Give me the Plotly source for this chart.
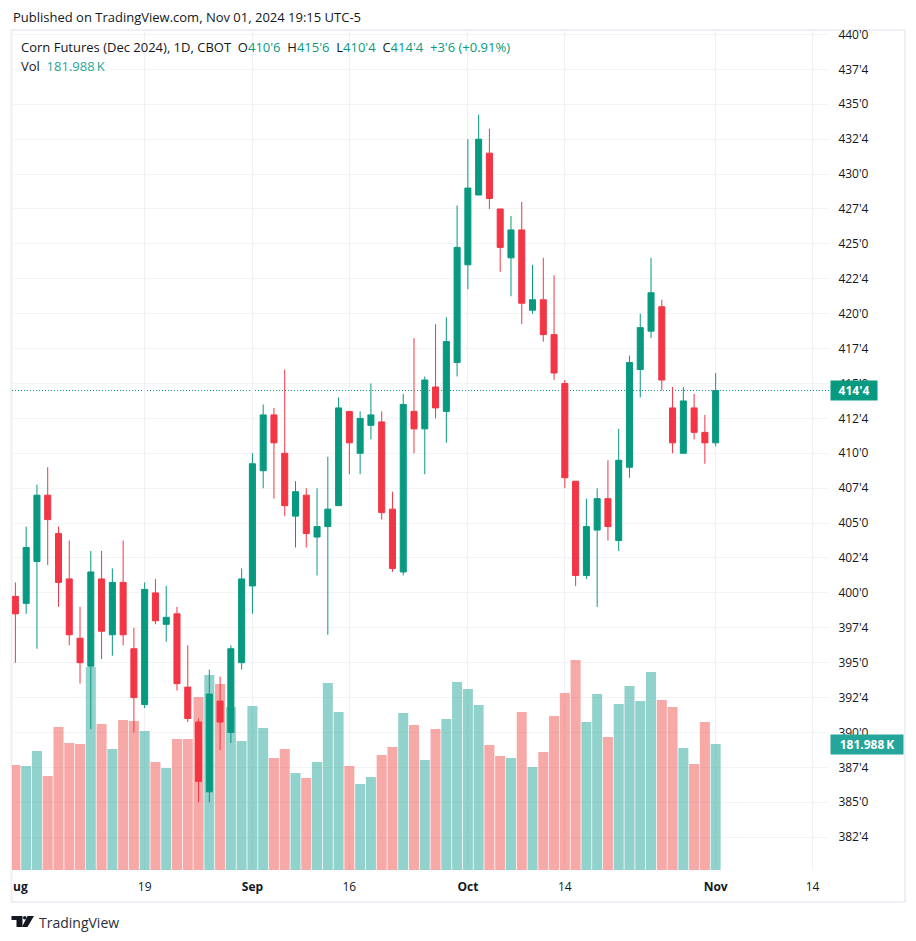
import plotly.graph_objects as go

# daily candles Aug 1 - Nov 1 2024 (cents, 414'4 = 414.5)
opens = [399.75, 399.25, 402.25, 407, 404.25, 401, 396.75, 394.75, 401, 397, 400.75, 396, 392, 400, 397.75, 398.5, 393.25, 390.75, 385.75, 392.25, 390, 395,
         400.5, 408.75, 412.75, 410, 405.5, 407, 404, 404.75, 406.25, 413, 410, 412, 412.25, 406, 401.5, 413, 411.75, 414.75, 413, 416.5,
         423.5, 428.5, 431.5, 427.5, 424, 426, 420.25, 421, 418.5, 415, 408, 401.25, 404.5, 406.75, 403.75, 409, 416, 418.75, 420.5, 413.25, 410, 413.25, 411.5, 410.75]
highs = [400.75, 404.75, 407.75, 409, 404.75, 403.75, 399, 403, 403, 401.75, 403.75, 397.5, 400.75, 401, 400.5, 399, 396.25, 391, 394.5, 394, 396.25, 401.75,
         410, 413.5, 413.25, 416, 408, 407.5, 407.5, 409.75, 414, 413, 413, 415, 413, 407.25, 414.25, 418.25, 415.5, 419.25, 419.75, 427.75,
         432.5, 434.25, 433.25, 427.5, 427, 428, 423.5, 424, 422.75, 415.25, 408, 406.75, 407.5, 409.5, 411.75, 417, 420, 424, 421, 414.75, 414.75, 414.25, 412.75, 415.75]
lows = [395, 398.5, 396, 402, 399, 396.25, 393.5, 390.25, 395.25, 395.5, 396.25, 390, 391.75, 397.75, 396.5, 393, 390.75, 385, 385, 388.75, 389.25, 394.5,
        398.5, 407.5, 406.75, 405.5, 403.25, 403.25, 401.25, 397, 406.25, 408.5, 408.5, 411, 405.25, 401.5, 401.25, 410, 408.5, 412.5, 410.75, 415.5,
        421.75, 428.5, 427.5, 423, 421.25, 419.25, 420, 418, 415.25, 407.5, 400.5, 401, 399, 403.75, 403, 408.25, 414, 418.25, 414.5, 410, 410, 411, 409.25, 410.5]
closes = [398.5, 403.25, 407, 405.25, 400.75, 397, 395, 401.5, 397.25, 400.75, 397, 392.5, 400.25, 398, 398.25, 393.5, 391, 386.5, 392.75, 390.75, 396, 401,
          409.25, 412.75, 410.75, 406.25, 407.25, 404.25, 404.75, 406, 413.25, 410.75, 412.5, 412.75, 405.75, 401.75, 413.5, 411.75, 415.25, 413.25, 418, 424.75,
          429, 432.5, 428.25, 424.75, 426, 420.75, 421, 418.5, 415.75, 408.25, 401.25, 404.75, 406.75, 404.75, 409.5, 416.5, 419, 421.5, 415.25, 410.75, 413.75, 411.5, 410.75, 414.5]
volumes = [151.6, 150.2, 171.8, 135.7, 206.5, 183.4, 181.9, 293.1, 210.8, 174.7, 216.6, 215.1, 200.7, 155.9, 147.3, 189.1, 189.1, 249.8, 281.6, 268.6, 235.4, 186.3,
           236.8, 205.0, 161.7, 174.7, 140.1, 132.8, 155.9, 270.0, 228.1, 150.2, 124.2, 134.3, 166.0, 177.6, 226.7, 209.4, 158.8, 203.6, 218.0, 271.5,
           261.3, 238.2, 180.5, 164.6, 161.7, 228.1, 148.7, 170.4, 222.4, 255.6, 303.2, 213.7, 254.1, 192.0, 239.7, 265.7, 244.0, 285.9, 245.5, 235.4, 176.2, 153.1, 213.7, 181.988]

date_ticks = [12, 22, 31, 42, 51, 65, 74]
date_labels = ["19", "<b>Sep</b>", "16", "<b>Oct</b>", "14", "<b>Nov</b>", "14"]
price_ticks = [382.5, 385, 387.5, 390, 392.5, 395, 397.5, 400, 402.5, 405, 407.5, 410, 412.5, 415, 417.5, 420, 422.5, 425, 427.5, 430, 432.5, 435, 437.5, 440]
price_labels = ["382'4", "385'0", "387'4", "390'0", "392'4", "395'0", "397'4", "400'0", "402'4", "405'0", "407'4", "410'0", "412'4", "415'0", "417'4", "420'0", "422'4", "425'0", "427'4", "430'0", "432'4", "435'0", "437'4", "440'0"]

UP = "#089981"
DOWN = "#F23645"
FONT = "Open Sans"
TEXT = "#131722"
# the page body keeps its 8px margin, so the figure starts at 8,8 of the window
PAGE_W, PAGE_H, BODY = 916, 941, 8
LEFT, RIGHT, TOP, BOTTOM = 11.5, 829, 31, 870


def px(x):
    return (x - LEFT) / (RIGHT - LEFT)


def py(y):
    return (BOTTOM - y) / (BOTTOM - TOP)


def page_text(x, y, text, size=13, color=TEXT):
    return dict(xref="paper", yref="paper", x=px(x), y=py(y), xanchor="left", yanchor="middle", text=text, xshift=-1,
                showarrow=False, align="left", font=dict(family=FONT, size=size, color=color))


def logo_path(points):
    return "M" + "L".join(f"{px(a)},{py(b)}" for a, b in points) + "Z"


xs = list(range(len(opens)))
vol_colors = ["rgba(38,166,154,0.5)" if c >= o else "rgba(239,83,80,0.5)" for o, c in zip(opens, closes)]

fig = go.Figure()
fig.add_trace(go.Bar(x=xs, y=volumes, marker=dict(color=vol_colors, line_width=0), yaxis="y", showlegend=False))
fig.add_trace(go.Candlestick(x=xs, open=opens, high=highs, low=lows, close=closes, yaxis="y2", showlegend=False,
                             increasing=dict(line=dict(color=UP, width=1), fillcolor=UP),
                             decreasing=dict(line=dict(color=DOWN, width=1), fillcolor=DOWN),
                             whiskerwidth=0))

fig.update_layout(
    width=PAGE_W - 2 * BODY, height=PAGE_H - 2 * BODY,
    margin=dict(l=LEFT - BODY, r=PAGE_W - BODY - RIGHT, t=TOP - BODY, b=PAGE_H - BODY - BOTTOM, pad=0),
    paper_bgcolor="white", plot_bgcolor="white", bargap=0.07, boxgap=0.2,
    font=dict(family=FONT, size=12, color=TEXT),
    xaxis=dict(range=[-0.315, 75.52], tickmode="array", tickvals=date_ticks, ticktext=date_labels, rangeslider_visible=False,
               showgrid=True, gridcolor="#F0F1F4", gridwidth=1, zeroline=False, ticks="outside", ticklen=6,
               tickcolor="rgba(0,0,0,0)", showline=False),
    yaxis=dict(range=[0, 1212], showgrid=False, showticklabels=False, zeroline=False, fixedrange=True),
    yaxis2=dict(range=[380.15, 440.25], overlaying="y", side="right", anchor="x", tickmode="array", tickvals=price_ticks,
                ticktext=price_labels, showgrid=True, gridcolor="#F3F4F6", gridwidth=1, zeroline=False, ticks="outside",
                ticklen=6, tickcolor="rgba(0,0,0,0)", showline=False),
    shapes=[
        dict(type="rect", xref="paper", yref="paper", x0=px(11), y0=py(30), x1=px(905), y1=py(902),
             line=dict(color="#EFF0F6", width=2), layer="below"),
        dict(type="line", xref="paper", yref="y2", x0=0, x1=1, y0=closes[-1], y1=closes[-1],
             line=dict(color=UP, width=1, dash="1px,2px"), layer="below"),
        dict(type="path", xref="paper", yref="paper", fillcolor="#131722", line_width=0,
             path=logo_path([(11, 916), (22, 916), (22, 927), (16, 927), (16, 920), (11, 920)])),
        dict(type="circle", xref="paper", yref="paper", fillcolor="#131722", line_width=0,
             x0=px(22.5), x1=px(26), y0=py(916), y1=py(919.5)),
        dict(type="path", xref="paper", yref="paper", fillcolor="#131722", line_width=0,
             path=logo_path([(27, 916), (33.5, 916), (27, 927), (21.5, 927)])),
    ],
    annotations=[
        page_text(11, 17, "Published on TradingView.com, Nov 01, 2024 19:15 UTC-5"),
        page_text(20, 47, f"Corn Futures (Dec 2024), 1D, CBOT\u00a0\u00a0O<span style='color:{UP}'>410'6</span>\u00a0\u00a0H<span style='color:{UP}'>415'6</span>"
                          f"\u00a0\u00a0L<span style='color:{UP}'>410'4</span>\u00a0\u00a0C<span style='color:{UP}'>414'4</span>\u00a0\u00a0<span style='color:{UP}'>+3'6 (+0.91%)</span>"),
        page_text(20, 66, "Vol\u00a0\u00a0<span style='color:#26A69A'>181.988\u2009K</span>"),
        page_text(38, 922, "TradingView", size=14, color="#2A2E39"),
        page_text(11.5, 886, "<b>ug</b>", size=12),
        dict(xref="paper", yref="y2", x=px(830), y=closes[-1], xanchor="left", yanchor="middle", text="<b>414'4</b>", showarrow=False,
             bgcolor=UP, width=44, height=17, font=dict(family=FONT, size=12, color="white")),
        dict(xref="paper", yref="y", x=px(830), y=volumes[-1], xanchor="left", yanchor="middle", text="<b>181.988\u2009K</b>", showarrow=False,
             bgcolor="#26A69A", width=70, height=17, font=dict(family=FONT, size=12, color="white")),
    ],
)

fig.write_html("out.html")
